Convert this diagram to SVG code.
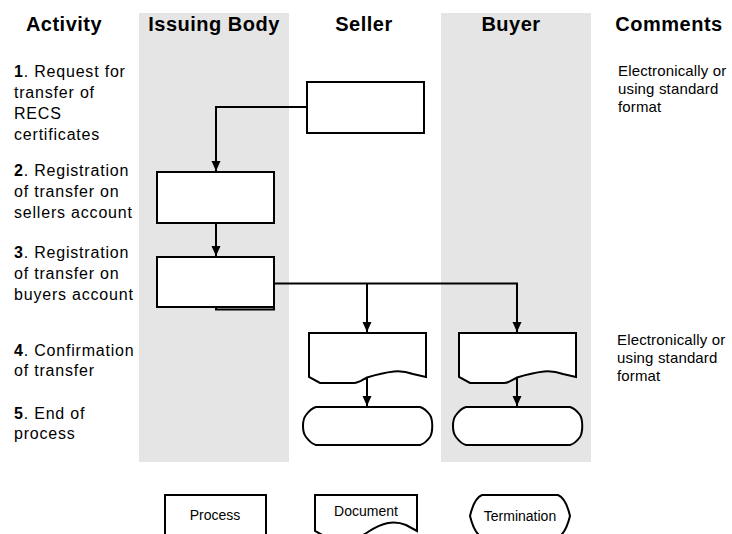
<svg xmlns="http://www.w3.org/2000/svg" width="732" height="534" viewBox="0 0 732 534">
<style>
.lane{fill:#e5e5e5;stroke:none}
.hdr{font-family:"Liberation Sans",Arial,sans-serif;font-size:20px;font-weight:bold;fill:#000;text-anchor:middle;letter-spacing:0.5px}
.act{font-family:"Liberation Sans",Arial,sans-serif;font-size:16px;fill:#000;letter-spacing:0.8px}
.cmt{font-family:"Liberation Sans",Arial,sans-serif;font-size:15px;fill:#000;letter-spacing:0.15px}
.leg{font-family:"Liberation Sans",Arial,sans-serif;font-size:14px;fill:#000;text-anchor:middle}
.shape{fill:#fff;stroke:#000;stroke-width:2}
.conn{fill:none;stroke:#000;stroke-width:2}
</style>
<defs>
<marker id="arr" viewBox="0 0 10 10" refX="10" refY="5" markerWidth="10" markerHeight="10" markerUnits="userSpaceOnUse" orient="auto">
<path d="M0,0.5 L10,5 L0,9.5 Z" fill="#000"/>
</marker>
</defs>

<rect width="732" height="534" fill="#fff"/>
<rect class="lane" x="139" y="13" width="150" height="449"/>
<rect class="lane" x="441" y="13" width="150" height="449"/>

<g id="headers">
<text class="hdr" x="64" y="31">Activity</text>
<text class="hdr" x="214" y="31">Issuing Body</text>
<text class="hdr" x="364" y="31">Seller</text>
<text class="hdr" x="511" y="31">Buyer</text>
<text class="hdr" x="669" y="31">Comments</text>
</g>

<g id="activities">
<text class="act" x="14" y="77"><tspan font-weight="bold">1</tspan>. Request for</text>
<text class="act" x="14" y="98">transfer of</text>
<text class="act" x="14" y="119">RECS</text>
<text class="act" x="14" y="140">certificates</text>
<text class="act" x="14" y="176"><tspan font-weight="bold">2</tspan>. Registration</text>
<text class="act" x="14" y="197">of transfer on</text>
<text class="act" x="14" y="218">sellers account</text>
<text class="act" x="14" y="258"><tspan font-weight="bold">3</tspan>. Registration</text>
<text class="act" x="14" y="279">of transfer on</text>
<text class="act" x="14" y="300">buyers account</text>
<text class="act" x="14" y="356"><tspan font-weight="bold">4</tspan>. Confirmation</text>
<text class="act" x="14" y="376">of transfer</text>
<text class="act" x="14" y="419"><tspan font-weight="bold">5</tspan>. End of</text>
<text class="act" x="14" y="439">process</text>
</g>

<g id="comments">
<text class="cmt" x="618" y="76">Electronically or</text>
<text class="cmt" x="618" y="94">using standard</text>
<text class="cmt" x="618" y="112">format</text>
<text class="cmt" x="617" y="345">Electronically or</text>
<text class="cmt" x="617" y="363">using standard</text>
<text class="cmt" x="617" y="381">format</text>
</g>

<g id="connectors">
<path class="conn" d="M307,107 H216 V171" marker-end="url(#arr)"/>
<path class="conn" d="M216,223 V256" marker-end="url(#arr)"/>
<path class="conn" d="M216,307 V309.5 H274 V284"/>
<path class="conn" d="M274,283.5 H517 V332" marker-end="url(#arr)"/>
<path class="conn" d="M367,283.5 V332" marker-end="url(#arr)"/>
<path class="conn" d="M367,377 V406" marker-end="url(#arr)"/>
<path class="conn" d="M517,377 V406" marker-end="url(#arr)"/>
</g>

<g id="seller-request">
<rect class="shape" x="307" y="82" width="117" height="51"/>
</g>
<g id="issuer-register-seller">
<rect class="shape" x="157" y="172" width="117" height="51"/>
</g>
<g id="issuer-register-buyer">
<rect class="shape" x="157" y="257" width="117" height="50"/>
</g>

<g id="seller-confirmation">
<path class="shape" d="M309,333 H426 V377 L413,374 C406,371.5 400,371 394,371.5 C385,372.5 375,375 367,377.5 C362,380 359,383 354,383 H320 L309,377 Z"/>
</g>
<g id="buyer-confirmation">
<path class="shape" transform="translate(150,0)" d="M309,333 H426 V377 L413,374 C406,371.5 400,371 394,371.5 C385,372.5 375,375 367,377.5 C362,380 359,383 354,383 H320 L309,377 Z"/>
</g>

<g id="seller-end">
<path class="shape" d="M316,407 H420 C424,408 427,411 430,415 C433,420 433,432 430,437 C427,441 424,444 420,445 H316 C312,444 309,441 306,437 C302,432 302,420 306,415 C309,411 312,408 316,407 Z"/>
</g>
<g id="buyer-end">
<path class="shape" transform="translate(150,0)" d="M316,407 H420 C424,408 427,411 430,415 C433,420 433,432 430,437 C427,441 424,444 420,445 H316 C312,444 309,441 306,437 C302,432 302,420 306,415 C309,411 312,408 316,407 Z"/>
</g>

<g id="legend-process">
<rect class="shape" x="165" y="495" width="101" height="60"/>
<text class="leg" x="215" y="520">Process</text>
</g>
<g id="legend-document">
<path class="shape" d="M315,495 H417 V531 L406,525 C400,522.5 394,522 388,523 C380,524.5 374,528 368,532 C364,535 360,537 354,537 H326 L315,531 Z"/>
<text class="leg" x="366" y="516">Document</text>
</g>
<g id="legend-termination">
<path class="shape" d="M482,495 H558 C563,497 567,503 570,516 C567,528 563,535 558,537 H482 C477,535 473,528 470,516 C473,503 477,497 482,495 Z"/>
<text class="leg" x="520" y="521">Termination</text>
</g>
</svg>
